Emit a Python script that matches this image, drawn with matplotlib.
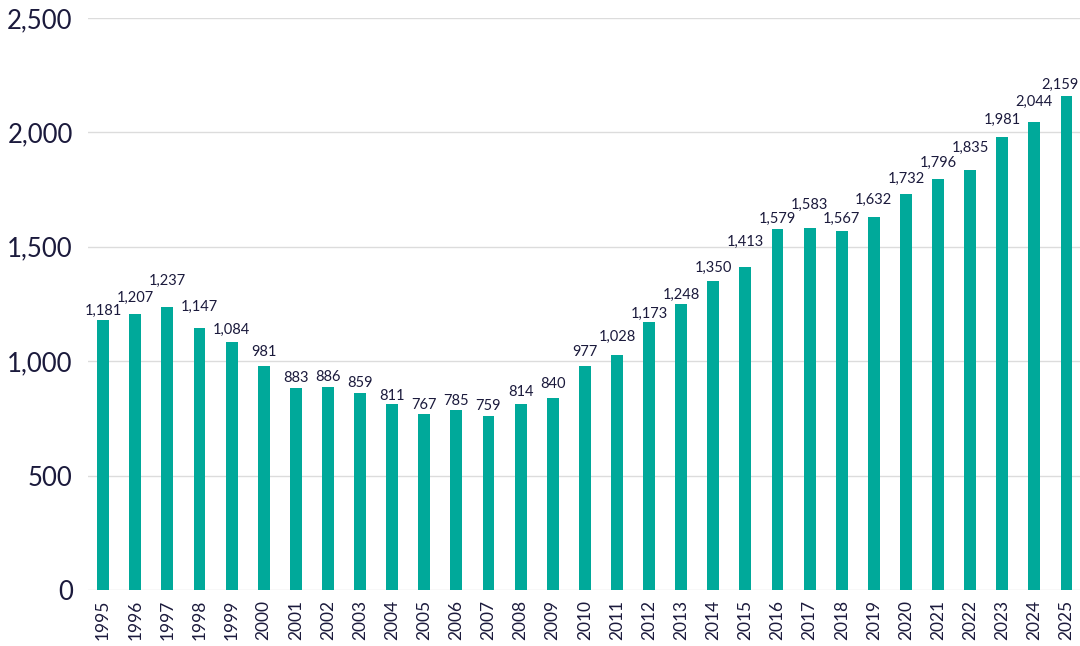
import matplotlib
matplotlib.use('Agg')
import matplotlib.pyplot as plt
from matplotlib.ticker import FuncFormatter

years = [str(y) for y in range(1995, 2026)]
values = [1181, 1207, 1237, 1147, 1084, 981, 883, 886, 859, 811,
          767, 785, 759, 814, 840, 977, 1028, 1173, 1248, 1350,
          1413, 1579, 1583, 1567, 1632, 1732, 1796, 1835, 1981, 2044, 2159]
y_ticks = [0, 500, 1000, 1500, 2000, 2500]

# 标签离柱顶的高度（像素），原图标签错开以免重叠
label_lift_px = [9, 16, 26, 21, 12, 14, 10, 10, 10, 8,
                 9, 9, 10, 12, 14, 14, 18, 8, 10, 13,
                 25, 10, 23, 13, 17, 15, 16, 22, 17, 20, 11]

bar_color = '#00a99a'
text_color = '#1b1a3c'

plt.rcParams['font.family'] = ['Lato', 'DejaVu Sans']

fig = plt.figure(figsize=(10.8, 6.46), dpi=100)
ax = fig.add_axes([0.0815, 0.0867, 0.9185, 0.8855])

x = list(range(len(years)))
ax.bar(x, values, width=0.37, color=bar_color, zorder=3)

# 数值标签（最后一个往左挪一点，免得被裁掉）
px_to_pt = 72 / fig.dpi
for xi, v, lift in zip(x, values, label_lift_px):
    dx = -7 if xi == len(years) - 1 else 0
    ax.annotate(f'{v:,}', (xi, v), textcoords='offset points',
                xytext=(dx * px_to_pt, lift * px_to_pt),
                ha='center', va='center', fontsize=10.5, color=text_color)

ax.set_xlim(-0.47, len(years) - 1 + 0.42)
ax.set_ylim(0, 2500)
ax.set_yticks(y_ticks)
ax.yaxis.set_major_formatter(FuncFormatter(lambda v, p: f'{int(v):,}'))
ax.set_xticks(x)
ax.set_xticklabels(years, rotation=90, fontsize=12.5, color=text_color)
ax.tick_params(axis='y', labelsize=18.5, colors=text_color, length=0, pad=11)
ax.tick_params(axis='x', length=0, pad=7)

ax.grid(axis='y', color='#dcdcdc', linewidth=1, zorder=0)
for s in ax.spines.values():
    s.set_visible(False)

fig.savefig('out.png', dpi=100)
